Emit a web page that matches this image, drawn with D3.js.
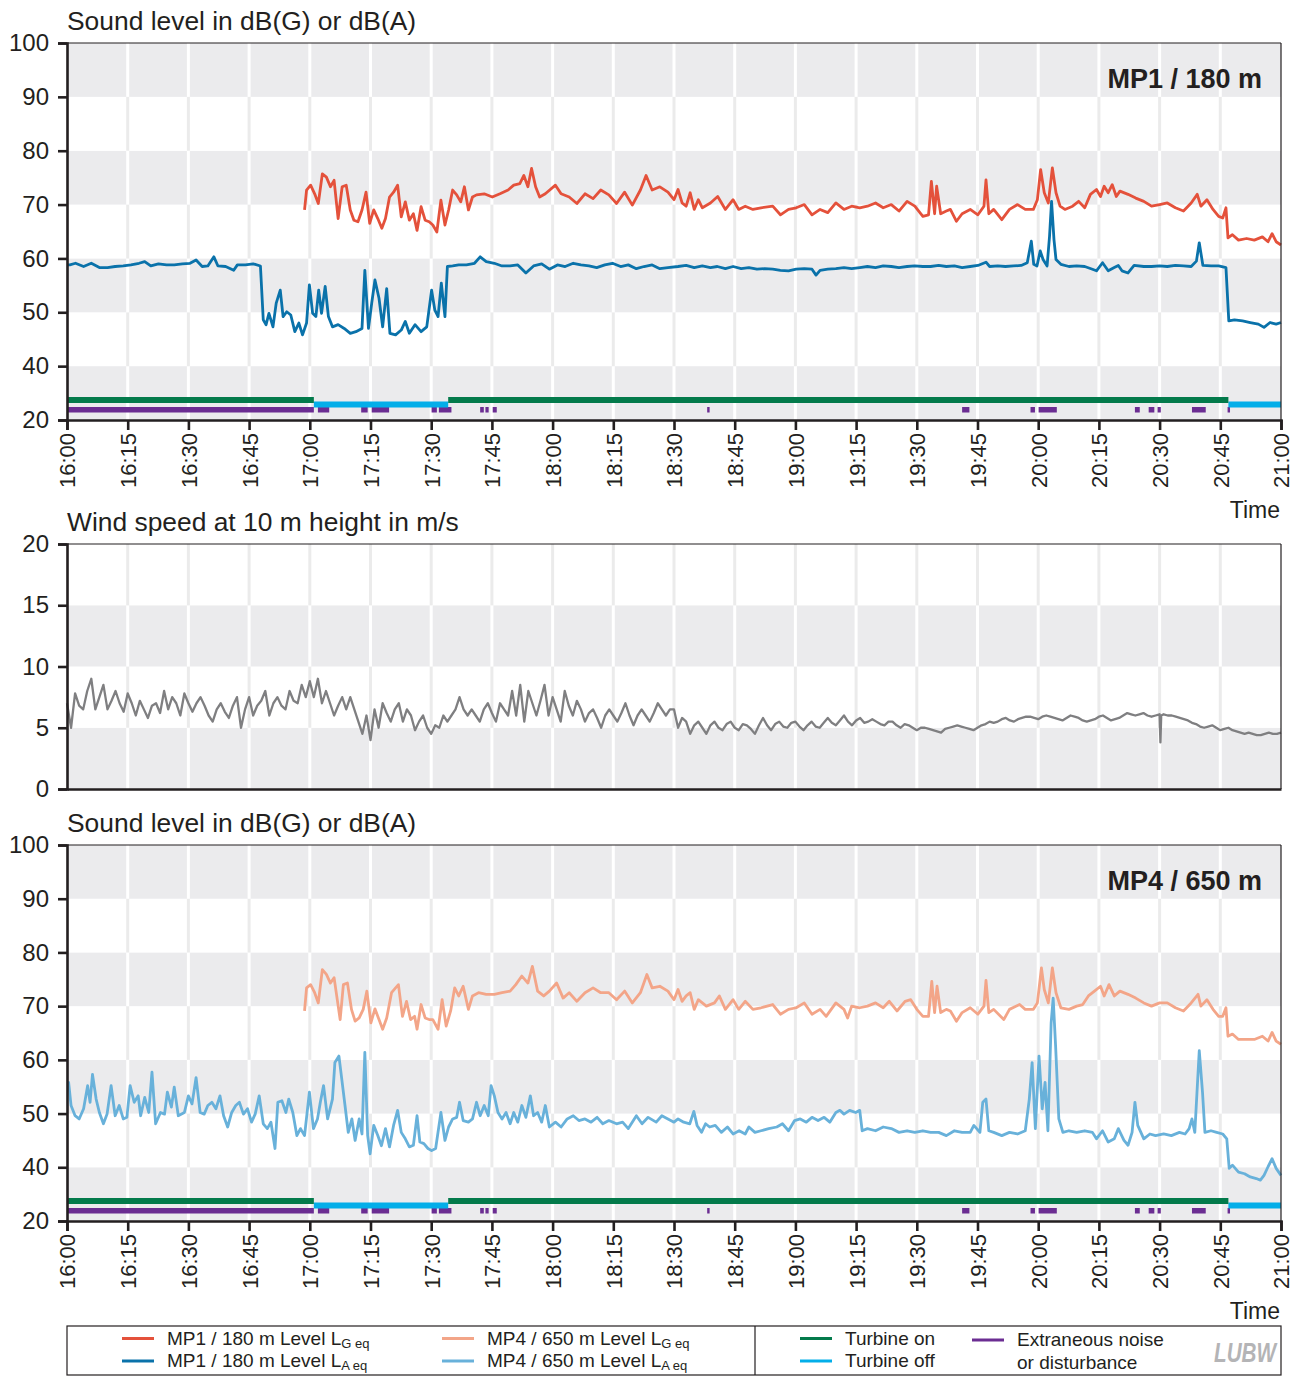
<!DOCTYPE html>
<html><head><meta charset="utf-8">
<script src="https://cdn.jsdelivr.net/npm/d3@7"></script>
<style>
body{margin:0;background:#fff}
svg{display:block}
text{font-family:"Liberation Sans",Arial,Helvetica,sans-serif;fill:#231f20}
</style>
</head><body>
<svg id="chart" width="1303" height="1376"></svg>
<script>
// ---------- DATA (time in minutes after 16:00) ----------
const timeTicks = [0,15,30,45,60,75,90,105,120,135,150,165,180,195,210,225,240,255,270,285,300];
const timeTickLabels = ["16:00","16:15","16:30","16:45","17:00","17:15","17:30","17:45","18:00","18:15","18:30","18:45","19:00","19:15","19:30","19:45","20:00","20:15","20:30","20:45","21:00"];
const soundTicks = [30,40,50,60,70,80,90,100];
const soundTickLabels = ["20","40","50","60","70","80","90","100"];
const windTicks = [0,5,10,15,20];
const windTickLabels = ["0","5","10","15","20"];

// MP1 / 180 m  L_G,eq
const mp1G = [[58.7,69.0],[59.2,72.7],[60.2,73.6],[61.2,72.0],[62.1,70.2],[63.1,75.7],[64.1,75.1],[65.1,73.3],[66.0,74.5],[67.0,67.4],[68.0,73.3],[69.0,73.6],[70.0,69.0],[70.9,67.1],[71.9,66.8],[72.9,69.0],[73.9,72.3],[74.8,66.5],[75.8,69.0],[76.8,67.4],[77.8,65.6],[78.7,67.4],[79.7,71.4],[80.7,72.3],[81.7,73.6],[82.6,67.7],[83.6,70.5],[84.6,67.1],[85.6,68.3],[86.5,65.2],[87.5,69.6],[88.5,67.1],[89.5,66.8],[90.4,66.2],[91.4,64.9],[92.4,70.8],[93.4,66.2],[94.3,69.0],[95.3,72.7],[96.3,71.8],[97.3,70.5],[98.2,73.3],[99.2,69.0],[100.2,71.4],[101.2,71.8],[103.1,72.0],[105.1,71.4],[107.0,72.0],[109.0,72.7],[110.4,73.6],[111.9,73.9],[112.9,75.4],[113.9,73.3],[114.8,76.7],[115.8,73.3],[116.8,71.4],[118.2,72.0],[120.7,73.6],[122.1,72.0],[124.1,71.4],[126.0,70.2],[128.0,72.0],[130.0,71.1],[131.9,72.7],[133.9,71.8],[135.8,70.2],[137.8,72.3],[139.7,69.9],[141.7,72.7],[143.1,75.4],[144.6,72.7],[146.5,73.3],[148.5,72.3],[150.0,70.9],[151,72.8],[152,70.3],[153,69.7],[154,72.2],[155,69.1],[156,70.9],[157,69.4],[159,70.3],[160.8,71.5],[162.7,69.1],[164.6,70.9],[166,69.1],[167.6,69.7],[169.5,69.1],[171.5,69.4],[174.4,69.7],[176.3,68.1],[178.3,69.1],[180.2,69.4],[182.2,70.0],[184.1,68.1],[186.1,69.1],[188,68.5],[190,70.3],[192,69.1],[193.9,69.7],[195.9,69.4],[197.8,69.7],[199.8,70.3],[201.7,69.4],[203.7,70.0],[205.6,68.8],[207.6,70.6],[209.5,69.7],[211.5,67.8],[212.9,68.1],[213.6,74.3],[214.4,68.3],[214.9,73.4],[215.9,68.3],[217.3,68.8],[218.3,69.1],[219.8,66.9],[221.2,68.3],[223.2,69.1],[225.1,68.1],[226.6,69.7],[227.1,74.6],[227.8,68.3],[229,69.1],[231,67.2],[232.9,69.1],[234.9,70.0],[236.8,69.1],[238.8,69.1],[239.8,70.9],[240.6,76.5],[241.5,72.2],[242.5,70.3],[243.5,76.8],[244.4,72.2],[245.4,69.7],[246.6,69.1],[248.5,69.7],[250,70.6],[251.5,69.4],[252.9,71.9],[254.4,72.8],[255.4,71.5],[256.3,73.4],[257.3,72.2],[258.3,73.7],[259.3,71.5],[260.2,72.5],[262.2,71.9],[264.1,71.2],[266.1,70.6],[268,69.7],[270,70.0],[271.9,70.3],[273.9,69.4],[275.9,68.8],[277.8,70.3],[279.3,71.9],[280.2,69.7],[281.7,70.9],[283.2,69.1],[284.6,67.8],[285.6,67.5],[286.4,69.4],[286.9,63.8],[288,64.4],[289.5,63.4],[291.5,63.7],[293.4,63.4],[295.4,64.0],[296.8,63.1],[297.8,64.6],[298.8,63.1],[300,62.5]];

// MP1 / 180 m  L_A,eq
const mp1A = [[0,58.8],[0.7,58.8],[2.1,59.1],[4.1,58.5],[6,59.1],[8,58.3],[10,58.3],[11.9,58.5],[13.9,58.6],[15.8,58.8],[17.8,59.1],[19.2,59.4],[20.7,58.6],[22.6,59.0],[24.6,58.8],[26.5,58.8],[28.5,59.0],[30.4,59.1],[31.9,59.7],[33.4,58.5],[34.8,58.6],[36.3,60.3],[37.3,58.6],[39.2,58.5],[41.2,57.8],[42.1,58.8],[44.1,58.8],[46,59.0],[47.8,58.6],[48.5,48.6],[49.2,47.7],[49.9,49.8],[50.9,47.3],[51.7,51.7],[52.7,54.1],[53.4,49.2],[54.3,50.1],[55.3,49.5],[56.3,46.4],[57.3,48.0],[58.2,45.8],[59.2,48.0],[59.9,55.1],[60.7,49.8],[61.5,49.2],[62.2,54.1],[62.9,49.8],[63.8,54.8],[64.6,49.2],[65.6,47.3],[67,47.7],[68.5,47.0],[70,46.1],[71.4,46.4],[72.9,47.0],[73.6,57.8],[74.5,47.0],[75.3,51.7],[76.1,56.0],[77.1,52.6],[78,47.3],[79,54.4],[79.8,46.1],[81.2,45.8],[82.6,46.7],[83.6,48.3],[84.6,46.1],[86,47.7],[87.5,46.4],[88.9,47.3],[90.1,54.1],[90.9,50.4],[91.7,49.2],[92.5,55.4],[93.4,49.2],[94,58.5],[95.3,58.6],[96.8,58.8],[98.7,58.8],[100.7,59.1],[102.1,60.3],[103.6,59.4],[105.6,59.1],[107.5,58.6],[109.5,58.6],[111.4,58.8],[113.4,57.3],[115.3,58.6],[117.3,59.0],[119.2,58.0],[121.2,58.8],[123.1,58.5],[125.1,59.1],[127,58.8],[129,58.6],[130.9,58.3],[132.9,58.8],[134.8,59.1],[136.8,58.5],[138.7,58.8],[140.7,58.1],[142.6,58.5],[144.6,58.8],[146.5,58.1],[148.5,58.3],[151,58.5],[153,58.7],[155,58.3],[157,58.6],[159,58.3],[160.7,58.5],[162.7,58.1],[164.6,58.5],[166.6,58.1],[168.5,58.3],[170.5,58.0],[172.4,58.1],[174.4,58.0],[176.3,57.8],[178.3,57.7],[180.2,58.0],[182.2,58.1],[184.1,58.0],[185.1,56.9],[186.1,57.8],[188,58.0],[190,58.1],[192,58.3],[193.9,58.1],[195.9,58.3],[197.8,58.5],[199.8,58.3],[201.7,58.6],[203.7,58.5],[205.6,58.3],[207.6,58.5],[209.5,58.6],[211.5,58.5],[213.4,58.5],[215.4,58.7],[217.3,58.5],[219.3,58.6],[221.2,58.3],[223.2,58.5],[225.1,58.7],[227.1,59.3],[228,58.5],[230,58.6],[231.9,58.5],[233.9,58.6],[235.8,58.7],[237.3,59.2],[238.3,63.2],[238.9,58.9],[239.7,58.6],[240.5,61.4],[241.2,59.8],[242.2,58.6],[242.8,64.1],[243.3,70.6],[243.9,63.5],[244.4,59.8],[245.6,58.9],[247.6,58.5],[249.5,58.6],[251.5,58.5],[253.4,58.0],[254.4,57.7],[255.9,59.2],[257.3,57.7],[258.8,58.3],[259.8,58.7],[260.7,57.7],[262.2,57.3],[263.7,58.7],[266.1,58.5],[268,58.5],[270,58.6],[271.9,58.5],[273.9,58.7],[275.9,58.6],[277.8,58.5],[279.1,59.5],[279.8,62.9],[280.7,58.7],[282.7,58.6],[284.6,58.6],[286.4,58.3],[287.1,48.4],[288.5,48.6],[290.5,48.4],[292.4,48.1],[294.4,47.8],[295.8,47.2],[297.3,48.1],[298.8,47.8],[300,48.1]];

// MP4 / 650 m  L_G,eq
const mp4G = [[58.7,69.1],[59.2,73.4],[60.2,74.0],[61.2,72.5],[62.1,70.6],[63.1,76.8],[64.1,75.9],[65.1,74.3],[66.0,75.3],[67.5,67.5],[68.3,74.0],[69.3,74.3],[70.3,69.4],[71.2,67.2],[72.2,67.8],[73.2,69.4],[74.1,72.8],[75.1,66.9],[76.1,69.5],[77.1,67.5],[78.0,65.7],[79.0,67.8],[80.2,72.5],[81.2,73.4],[81.9,74.0],[82.9,68.1],[83.9,70.9],[84.9,67.5],[85.9,68.1],[86.5,65.7],[87.5,70.3],[88.5,67.8],[89.5,67.5],[90.4,67.5],[91.7,65.7],[92.7,71.2],[93.7,66.3],[94.8,69.1],[95.8,73.4],[96.8,71.9],[97.9,73.7],[99.2,69.4],[100.2,71.9],[101.7,72.5],[103.6,72.2],[105.6,72.2],[107.5,72.5],[109.5,72.8],[110.9,74.0],[112.4,75.6],[113.9,74.3],[115.0,77.4],[116.3,72.8],[117.8,71.9],[119.2,72.8],[121.0,74.3],[122.6,71.5],[124.1,72.5],[126.0,70.9],[128.0,72.5],[130.0,73.4],[131.9,72.5],[133.9,72.5],[135.8,71.2],[137.8,72.8],[139.7,70.6],[141.7,72.5],[143.3,75.9],[144.6,73.4],[146.5,73.7],[148.5,72.8],[150,71.2],[151,73.1],[152,70.9],[153,71.9],[154,72.5],[155,69.4],[156,71.2],[158,70.0],[160,70.6],[161.2,71.9],[162.7,69.4],[164.6,71.2],[166,69.4],[167.6,70.9],[169.5,69.4],[171.5,69.7],[174.4,70.3],[176.3,68.5],[178.3,69.4],[180.2,69.7],[182.2,70.6],[184.1,68.5],[186.1,69.4],[187.6,68.1],[190,70.6],[192,69.4],[192.9,67.8],[193.9,70.0],[195.9,69.7],[197.8,70.0],[199.8,70.6],[201.7,69.7],[203.2,70.9],[205.1,69.1],[207.1,70.9],[208.5,71.2],[210,69.4],[211.5,68.1],[212.9,68.1],[213.7,74.6],[214.4,68.8],[215,73.7],[215.9,68.8],[217.3,69.4],[218.3,69.1],[219.8,67.2],[221.2,68.8],[223.2,69.7],[225.1,68.5],[226.6,70.0],[227.1,74.8],[227.8,68.8],[229,69.4],[231.5,67.5],[232.9,69.4],[235.4,70.3],[236.8,69.4],[238.8,69.4],[239.8,70.6],[240.8,77.1],[241.5,73.1],[242.5,70.6],[243.5,77.1],[244.4,72.5],[245.6,69.7],[247.6,69.4],[249.5,70.0],[251,70.3],[252.4,71.9],[253.9,72.8],[255.4,73.7],[256.3,71.9],[257.5,74.0],[258.8,71.9],[260.2,72.8],[262.2,72.2],[264.1,71.5],[266.1,70.6],[268,70.0],[270,70.6],[271.9,70.6],[273.9,69.7],[275.9,69.1],[277.8,70.6],[279.5,72.2],[280.2,70.0],[281.7,71.2],[283.2,69.4],[284.6,68.1],[285.6,68.1],[286.4,69.7],[286.9,64.4],[288,64.8],[289.5,63.8],[291.5,63.8],[293.4,63.8],[295.4,64.4],[296.8,63.5],[297.8,65.1],[298.8,63.5],[300,62.9]];

// MP4 / 650 m  L_A,eq
const mp4A = [[0,55.8],[0.4,55.8],[1,51.5],[2,49.6],[3,49.0],[4.1,50.9],[5.1,55.2],[5.7,52.1],[6.3,57.3],[7.2,52.7],[8,50.2],[9,48.1],[9.9,49.9],[10.9,55.2],[11.9,49.6],[12.9,51.5],[13.9,49.0],[14.8,49.3],[15.6,55.2],[16.6,52.1],[17.6,53.3],[18.2,49.6],[19.2,53.0],[20.2,50.2],[21,57.7],[21.9,48.1],[23.1,50.2],[24.1,49.9],[24.8,54.0],[25.8,51.2],[26.5,54.9],[27.5,49.6],[29,50.2],[30,53.3],[30.9,51.8],[31.9,56.7],[32.9,50.2],[33.9,49.9],[34.8,51.5],[35.8,52.1],[36.8,50.9],[37.8,53.3],[38.7,49.6],[39.7,47.5],[40.7,50.2],[41.7,51.5],[42.6,52.1],[43.6,49.9],[44.6,50.9],[45.6,48.4],[46.5,49.9],[47.5,53.3],[48.5,48.1],[49.5,47.2],[50.4,48.4],[51.4,43.5],[52.1,52.1],[53.1,52.4],[54.1,50.2],[54.8,52.7],[55.8,50.2],[56.8,45.9],[57.7,47.2],[58.7,45.9],[59.9,54.0],[60.9,47.2],[61.9,49.0],[62.6,52.1],[63.4,55.2],[64.4,49.0],[65.6,52.7],[66.2,59.5],[67.2,60.7],[67.9,56.4],[68.7,51.5],[69.5,46.5],[70.4,49.0],[71.2,45.0],[72.2,49.0],[72.9,46.2],[73.6,61.4],[74.3,45.9],[74.9,42.5],[75.8,47.8],[76.8,45.9],[77.7,44.0],[78.7,47.2],[79.7,43.8],[80.7,47.8],[81.7,50.6],[82.6,46.5],[83.6,45.3],[84.6,43.8],[85.6,44.1],[86.5,49.6],[87.2,44.7],[88.2,44.4],[89.2,43.5],[90.1,43.1],[91.1,43.5],[92.4,50.2],[93.4,45.0],[94.3,47.5],[95.3,49.0],[96.3,49.3],[97,52.1],[97.9,48.7],[99.2,48.4],[100.2,49.0],[101.2,52.1],[102.1,49.6],[103.1,51.5],[104.1,49.6],[104.8,55.2],[105.6,53.3],[106.5,50.2],[107.5,49.0],[108.5,50.2],[109.5,48.1],[110.4,50.2],[111.4,48.4],[112.4,51.5],[113.4,49.3],[114.5,53.3],[115.3,49.6],[116.3,50.2],[117.3,48.4],[118.2,51.5],[119.2,47.5],[120.7,48.4],[122.1,47.5],[123.6,49.0],[125.1,49.6],[126.5,48.7],[128,49.0],[129.5,48.4],[131,49.3],[132.4,48.1],[133.9,48.7],[135.8,48.1],[137.3,48.4],[138.7,47.2],[140.7,49.6],[142.1,48.1],[143.6,49.3],[145.6,48.4],[147,49.6],[148.5,49.0],[150,48.4],[151,49.0],[152.4,48.4],[153.9,48.1],[154.9,50.4],[155.7,47.8],[156.8,46.5],[157.8,48.1],[158.8,47.5],[160.2,47.8],[161.7,46.5],[163.2,47.5],[164.6,46.2],[166.1,46.8],[167.6,46.2],[168.5,47.5],[170,46.5],[171.5,46.8],[173.4,47.2],[175.4,47.5],[176.8,48.1],[178.3,46.8],[179.8,48.7],[181.2,49.0],[182.7,48.4],[184.1,49.3],[185.6,48.7],[187.1,49.3],[188.5,48.4],[190,50.2],[191,50.6],[192,49.9],[193.4,50.6],[194.9,50.2],[195.9,50.6],[196.5,46.8],[197.8,47.2],[199.8,46.8],[201.7,47.5],[203.7,47.2],[205.6,46.5],[207.6,46.8],[209.5,46.5],[211.5,46.8],[213.4,46.5],[215.4,46.5],[217.3,45.9],[219.3,46.8],[221.2,46.5],[223.2,46.5],[224.1,47.8],[225.6,46.5],[226.3,52.1],[227.1,52.7],[227.8,46.8],[229,46.5],[231,45.9],[232.9,46.5],[234.9,46.2],[236.8,46.8],[237.8,52.7],[238.5,59.5],[239.3,47.2],[240.2,60.7],[241,50.9],[241.7,55.8],[242.4,46.8],[243.2,66.9],[243.7,71.5],[244.3,62.6],[245.1,49.0],[246.1,46.5],[247.6,46.8],[249.5,46.5],[251.5,46.8],[253.4,46.5],[254.4,45.3],[255.9,46.8],[257.3,44.7],[258.8,45.3],[259.8,47.2],[261.2,45.0],[262.2,44.1],[263.2,46.5],[263.9,52.1],[264.6,47.8],[266.1,45.3],[267.6,46.2],[269,45.9],[271,46.2],[272.9,45.9],[274.9,46.5],[276.3,46.2],[277.3,47.2],[278,49.0],[278.7,46.5],[279.8,61.7],[280.6,54.0],[281.2,46.5],[282.7,46.8],[284.1,46.5],[285.6,46.2],[286.6,45.3],[287.2,39.8],[288,40.4],[289.5,39.1],[291,38.8],[292.4,38.2],[293.9,37.9],[294.9,37.6],[295.8,38.5],[296.8,40.1],[297.8,41.6],[298.8,39.8],[300,38.5]];

// Wind speed at 10 m (m/s)
const windSpeed = [[0,7.0],[1,5.0],[2,7.8],[3,6.8],[4,6.5],[5,8.0],[6,9.0],[7,6.5],[8,7.5],[9,8.5],[10,6.5],[11,7.2],[12,8.0],[13,7.0],[14,6.3],[15,7.8],[16,7.0],[17,6.0],[18,7.2],[19,6.5],[20,5.8],[21,6.8],[22,7.0],[23,6.2],[24,8.0],[25,6.5],[26,7.5],[27,7.0],[28,6.0],[29,7.8],[30,7.0],[31,6.3],[32,7.0],[33,7.5],[34,6.8],[35,6.0],[36,5.5],[37,6.5],[38,7.0],[39,6.3],[40,5.8],[41,6.8],[42,7.5],[43,5.0],[44,6.5],[45,7.5],[46,6.0],[47,6.8],[48,7.2],[49,8.0],[50,6.0],[51,7.0],[52,7.5],[53,6.8],[54,6.5],[55,8.0],[56,7.2],[57,7.0],[58,8.5],[59,7.5],[60,8.8],[61,7.5],[62,9.0],[63,7.0],[64,8.0],[65,7.0],[66,6.0],[67,6.8],[68,7.5],[69,6.5],[70,7.5],[71,6.5],[72,5.5],[73,4.5],[74,6.0],[75,4.0],[76,6.5],[77,5.0],[78,7.0],[79,6.2],[80,5.5],[81,6.5],[82,7.0],[83,5.5],[84,6.5],[85,6.0],[86,4.8],[87,5.5],[88,6.0],[89,5.0],[90,4.5],[91,5.2],[92,5.0],[93,6.0],[94,5.5],[95,6.0],[96,6.5],[97,7.5],[98,6.5],[99,6.0],[100,6.5],[101,6.0],[102,5.5],[103,6.5],[104,7.0],[105,6.2],[106,5.5],[107,7.0],[108,6.5],[109,6.0],[110,8.0],[111,6.0],[112,8.5],[113,5.5],[114,8.0],[115,7.0],[116,6.0],[117,7.2],[118,8.5],[119,6.0],[120,7.5],[121,6.5],[122,5.5],[123,8.0],[124,6.8],[125,6.0],[126,7.2],[127,6.5],[128,5.5],[129,6.2],[130,6.5],[131,5.8],[132,5.0],[133,6.0],[134,6.5],[135,6.0],[136,5.5],[137,6.2],[138,7.0],[139,6.0],[140,5.2],[141,6.0],[142,6.5],[143,6.0],[144,5.5],[145,6.2],[146,7.0],[147,6.5],[148,6.0],[149,6.5],[150,6.5],[151,5.0],[152,5.8],[153,5.5],[154,4.5],[155,5.2],[156,5.5],[157,5.0],[158,4.5],[159,5.2],[160,5.5],[161,5.0],[162,4.8],[163,5.3],[164,5.5],[165,5.0],[166,4.8],[167,5.3],[168,5.2],[169,4.9],[170,4.5],[171,5.2],[172,5.8],[173,5.2],[174,4.8],[175,5.3],[176,5.5],[177,5.1],[178,5.0],[179,5.4],[180,5.5],[181,5.1],[182,4.8],[183,5.2],[184,5.5],[185,5.1],[186,5.0],[187,5.4],[188,5.8],[189,5.4],[190,5.2],[191,5.6],[192,6.0],[193,5.5],[194,5.2],[195,5.6],[196,5.8],[197,5.4],[198,5.5],[199,5.7],[200,5.5],[201,5.3],[202,5.2],[203,5.5],[204,5.5],[205,5.2],[206,5.0],[207,5.3],[208,5.2],[209,5.0],[210,4.8],[211,5.0],[212,5.0],[213,4.9],[214,4.8],[215,4.7],[216,4.6],[217,4.9],[218,5.0],[219,5.1],[220,5.2],[221,5.1],[222,5.0],[223,4.9],[224,4.8],[225,5.0],[226,5.2],[227,5.3],[228,5.5],[229,5.4],[230,5.5],[231,5.7],[232,5.8],[233,5.6],[234,5.5],[235,5.7],[236,5.8],[237,5.9],[238,5.9],[239,5.8],[240,5.7],[241,5.9],[242,6.0],[243,5.9],[244,5.8],[245,5.7],[246,5.6],[247,5.8],[248,6.0],[249,5.9],[250,5.8],[251,5.6],[252,5.5],[253,5.6],[254,5.7],[255,5.9],[256,6.0],[257,5.8],[258,5.6],[259,5.7],[260,5.8],[261,6.0],[262,6.2],[263,6.1],[264,6.0],[265,6.1],[266,6.2],[267,6.0],[268,5.9],[269,6.0],[270,6.1],[270.2,3.8],[270.4,6.0],[271,6.1],[272,6.0],[273,6.0],[274,5.9],[275,5.8],[276,5.7],[277,5.6],[278,5.4],[279,5.3],[280,5.1],[281,5.0],[282,5.1],[283,5.2],[284,5.0],[285,4.8],[286,4.9],[287,5.0],[288,4.8],[289,4.7],[290,4.6],[291,4.5],[292,4.6],[293,4.5],[294,4.4],[295,4.4],[296,4.5],[297,4.6],[298,4.5],[299,4.5],[300,4.6]];

// Operating status intervals [start, end] in minutes
const turbineOn = [[0,61],[94.2,287]];
const turbineOff = [[61,94.2],[287,300]];
const disturbance = [[0,61],[62,64.8],[72.7,74.3],[75.3,79.6],[90.1,91.4],[91.9,95],[102.1,103],[103.4,104.2],[105.2,106.2],[158.2,158.8],[221.2,223],[238.1,239.2],[240.1,244.6],[263.9,265.1],[267.3,268.7],[269.5,270.3],[278,281.4],[286.8,287.4]];

// ---------- STYLE ----------
const C = {
  red:"#e4513b", blue:"#0a72aa", salmon:"#f3a588", lblue:"#68b1da", gray:"#7f7f81",
  green:"#037a4b", cyan:"#03aee9", purple:"#6b2d92", band:"#ebebed", ink:"#231f20"
};
const FONT = "'Liberation Sans',Arial,sans-serif";
const X0 = 67, X1 = 1281;
const svg = d3.select("#chart");
const x = d3.scaleLinear().domain([0,300]).range([X0,X1]);

function panel(o){
  const g = svg.append("g");
  const y = d3.scaleLinear().domain(o.domain).range([o.bottom,o.top]);
  o.bands.forEach(b=>{
    g.append("rect").attr("x",X0).attr("width",X1-X0)
      .attr("y",y(b[1])).attr("height",y(b[0])-y(b[1]))
      .attr("fill",b[2]?C.band:"#fff");
  });
  timeTicks.slice(1,-1).forEach(t=>{
    o.bands.forEach(b=>{
      g.append("line").attr("x1",x(t)).attr("x2",x(t))
        .attr("y1",y(b[1])).attr("y2",y(b[0]))
        .attr("stroke",b[2]?"#ffffff":"#ebebeb").attr("stroke-width",3);
    });
  });
  if(o.status){
    const bar=(arr,col,off,h)=>arr.forEach(s=>{
      g.append("rect").attr("x",x(s[0])).attr("width",x(s[1])-x(s[0]))
        .attr("y",o.bottom-off).attr("height",h).attr("fill",col);
    });
    bar(disturbance,C.purple,13,5.5);
    bar(turbineOff,C.cyan,18.5,6);
    bar(turbineOn,C.green,23,6);
  }
  const line = d3.line().x(d=>x(d[0])).y(d=>y(d[1]));
  o.series.forEach(s=>{
    g.append("path").datum(s.data).attr("d",line).attr("fill","none")
      .attr("stroke",s.color).attr("stroke-width",s.w||2.8)
      .attr("stroke-linejoin","round");
  });
  g.append("line").attr("x1",X0).attr("x2",X1).attr("y1",o.top).attr("y2",o.top).attr("stroke",C.ink).attr("stroke-width",1.2);
  g.append("line").attr("x1",X1).attr("x2",X1).attr("y1",o.top).attr("y2",o.bottom).attr("stroke",C.ink).attr("stroke-width",1.2);
  const ya = d3.axisLeft(y).tickValues(o.ticks).tickSize(9).tickPadding(9)
      .tickFormat((d,i)=>o.tickLabels[i]);
  const yg = g.append("g").attr("transform",`translate(${X0},0)`).call(ya);
  yg.select(".domain").attr("stroke",C.ink).attr("stroke-width",2.6);
  yg.selectAll(".tick line").attr("stroke",C.ink).attr("stroke-width",2.6);
  yg.selectAll(".tick text").attr("font-size",24).attr("fill",C.ink).attr("font-family",FONT);
  const xa = d3.axisBottom(x).tickValues(timeTicks).tickSize(o.xlabels?10:0).tickPadding(3)
      .tickFormat((d,i)=>o.xlabels?timeTickLabels[i]:"");
  const xg = g.append("g").attr("transform",`translate(0,${o.bottom})`).call(xa);
  xg.select(".domain").attr("stroke",C.ink).attr("stroke-width",2.6);
  xg.selectAll(".tick line").attr("stroke",C.ink).attr("stroke-width",2.6);
  if(o.xlabels){
    xg.selectAll(".tick text").attr("font-size",22).attr("fill",C.ink).attr("font-family",FONT)
      .attr("text-anchor","end").attr("transform","rotate(-90)")
      .attr("x",-13).attr("y",0).attr("dy","0.36em");
    g.append("text").attr("x",X1-1).attr("y",o.bottom+98).attr("text-anchor","end")
      .attr("font-size",23).text("Time");
  }
  g.append("text").attr("x",X0).attr("y",o.top-13).attr("font-size",26.4).text(o.title);
  if(o.label){
    g.append("text").attr("x",1262).attr("y",o.top+45).attr("text-anchor","end")
      .attr("font-size",27).attr("font-weight","bold").text(o.label);
  }
  return g;
}

const soundBands = [[30,40,1],[40,50,0],[50,60,1],[60,70,0],[70,80,1],[80,90,0],[90,100,1]];
panel({top:43,bottom:420,domain:[30,100],bands:soundBands,ticks:soundTicks,tickLabels:soundTickLabels,
  title:"Sound level in dB(G) or dB(A)",label:"MP1 / 180 m",xlabels:true,status:true,
  series:[{data:mp1G,color:C.red},{data:mp1A,color:C.blue}]});
panel({top:544,bottom:789,domain:[0,20],bands:[[0,5,1],[5,10,0],[10,15,1],[15,20,0]],
  ticks:windTicks,tickLabels:windTickLabels,title:"Wind speed at 10 m height in m/s",xlabels:false,status:false,
  series:[{data:windSpeed,color:C.gray,w:2.3}]});
panel({top:845,bottom:1221,domain:[30,100],bands:soundBands,ticks:soundTicks,tickLabels:soundTickLabels,
  title:"Sound level in dB(G) or dB(A)",label:"MP4 / 650 m",xlabels:true,status:true,
  series:[{data:mp4G,color:C.salmon},{data:mp4A,color:C.lblue}]});

// ---------- LEGEND ----------
const L = svg.append("g");
L.append("rect").attr("x",X0).attr("y",1326).attr("width",X1-X0).attr("height",49)
  .attr("fill","none").attr("stroke",C.ink).attr("stroke-width",1.2);
L.append("line").attr("x1",755).attr("x2",755).attr("y1",1326).attr("y2",1375).attr("stroke",C.ink).attr("stroke-width",1.2);
const legendSound = [
  {x:122,y:1338.5,color:C.red,text:"MP1 / 180 m Level L",sub:"G eq"},
  {x:122,y:1361,color:C.blue,text:"MP1 / 180 m Level L",sub:"A eq"},
  {x:442,y:1338.5,color:C.salmon,text:"MP4 / 650 m Level L",sub:"G eq"},
  {x:442,y:1361,color:C.lblue,text:"MP4 / 650 m Level L",sub:"A eq"}
];
legendSound.forEach(d=>{
  L.append("line").attr("x1",d.x).attr("x2",d.x+32).attr("y1",d.y).attr("y2",d.y)
    .attr("stroke",d.color).attr("stroke-width",3);
  const t = L.append("text").attr("x",d.x+45).attr("y",d.y+6).attr("font-size",19);
  t.append("tspan").text(d.text);
  t.append("tspan").attr("font-size",13).attr("dy",3).text(d.sub);
});
const legendStatus = [
  {x:800,y:1338.5,color:C.green,lines:["Turbine on"]},
  {x:800,y:1361,color:C.cyan,lines:["Turbine off"]},
  {x:972,y:1340,color:C.purple,lines:["Extraneous noise","or disturbance"]}
];
legendStatus.forEach(d=>{
  L.append("line").attr("x1",d.x).attr("x2",d.x+32).attr("y1",d.y).attr("y2",d.y)
    .attr("stroke",d.color).attr("stroke-width",3);
  d.lines.forEach((s,i)=>{
    L.append("text").attr("x",d.x+45).attr("y",d.y+6+i*23).attr("font-size",19).text(s);
  });
});
L.append("text").attr("x",1214).attr("y",1362).attr("font-size",27).attr("font-weight","bold")
  .attr("font-style","italic").style("fill","#b4b4b6")
  .attr("textLength",62).attr("lengthAdjust","spacingAndGlyphs").text("LUBW");
</script>
</body></html>
